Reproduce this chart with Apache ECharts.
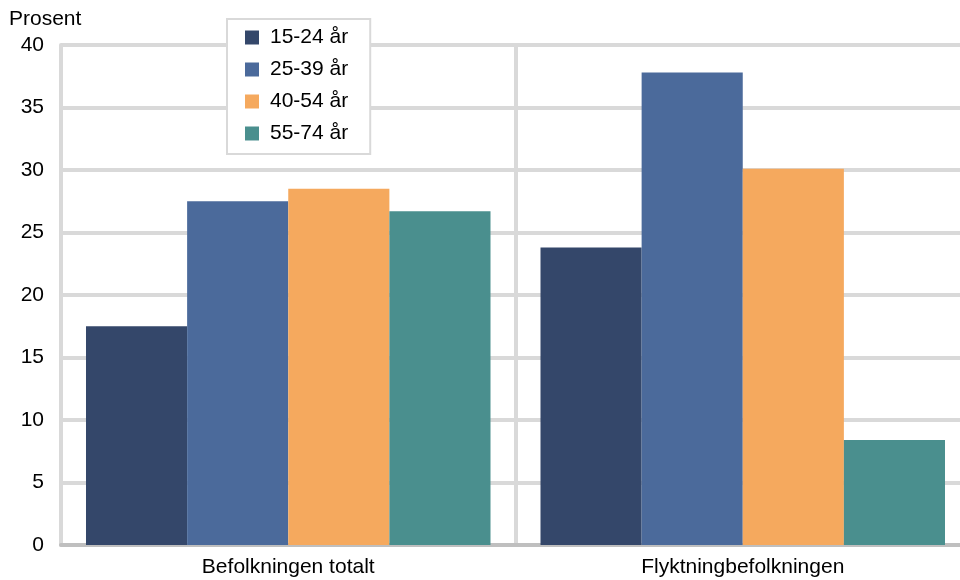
<!DOCTYPE html>
<html><head><meta charset="utf-8">
<script src="https://cdn.jsdelivr.net/npm/echarts@6/dist/echarts.min.js"></script>
<style>html,body{margin:0;padding:0;background:#fff}#c{width:960px;height:580px}</style>
</head><body><div id="c"></div>
<script>
var categories = ['Befolkningen totalt', 'Flyktningbefolkningen'];
var seriesNames = ['15-24 år', '25-39 år', '40-54 år', '55-74 år'];
var s1524 = [17.5, 23.8];
var s2539 = [27.5, 37.8];
var s4054 = [28.5, 30.1];
var s5574 = [26.7, 8.4];
var colors = ['#34476a', '#4b6a9b', '#f5a95e', '#4a8f8e'];
var yTicks = [0, 5, 10, 15, 20, 25, 30, 35, 40];

var font = '"Liberation Sans", Arial, sans-serif';
var fs = 21;
var values = [s1524, s2539, s4054, s5574];
var chart = echarts.init(document.getElementById('c'), null, {renderer: 'canvas'});
chart.setOption({
  animation: false,
  backgroundColor: '#fff',
  color: colors,
  textStyle: {fontFamily: font},
  grid: {left: 61, top: 45, width: 909, height: 500, containLabel: false, outerBoundsMode: 'none'},
  legend: {
    orient: 'vertical', left: 227, top: 19,
    data: seriesNames,
    icon: 'rect', itemWidth: 14, itemHeight: 14, itemGap: 11,
    padding: [8, 22, 10, 18],
    backgroundColor: '#fff', borderColor: '#d9d9d9', borderWidth: 2,
    textStyle: {fontSize: fs, color: '#000', fontFamily: font, padding: [0, 0, 0, 6]}
  },
  xAxis: {
    type: 'category', data: categories,
    axisLine: {show: true, lineStyle: {color: '#bfbfbf', width: 4}},
    axisTick: {show: false},
    splitLine: {show: true, lineStyle: {color: '#d9d9d9', width: 4}},
    axisLabel: {fontSize: fs, color: '#000', fontFamily: font, margin: 12}
  },
  yAxis: {
    type: 'value', min: 0, max: 40, interval: 5,
    name: 'Prosent', nameLocation: 'end', nameGap: 15,
    nameTextStyle: {fontSize: fs, color: '#000', fontFamily: font, align: 'left', padding: [0, 0, 0, -52]},
    axisLine: {show: true, lineStyle: {color: '#d9d9d9', width: 4}},
    axisTick: {show: false},
    splitLine: {show: true, lineStyle: {color: '#d9d9d9', width: 4}},
    axisLabel: {fontSize: fs, color: '#000', fontFamily: font, margin: 17,
      formatter: function (v) { return yTicks.indexOf(v) >= 0 ? String(v) : ''; }}
  },
  series: seriesNames.map(function (n, i) {
    return {name: n, type: 'bar', data: values[i], barGap: '0%', barCategoryGap: '11%'};
  })
});
</script></body></html>
